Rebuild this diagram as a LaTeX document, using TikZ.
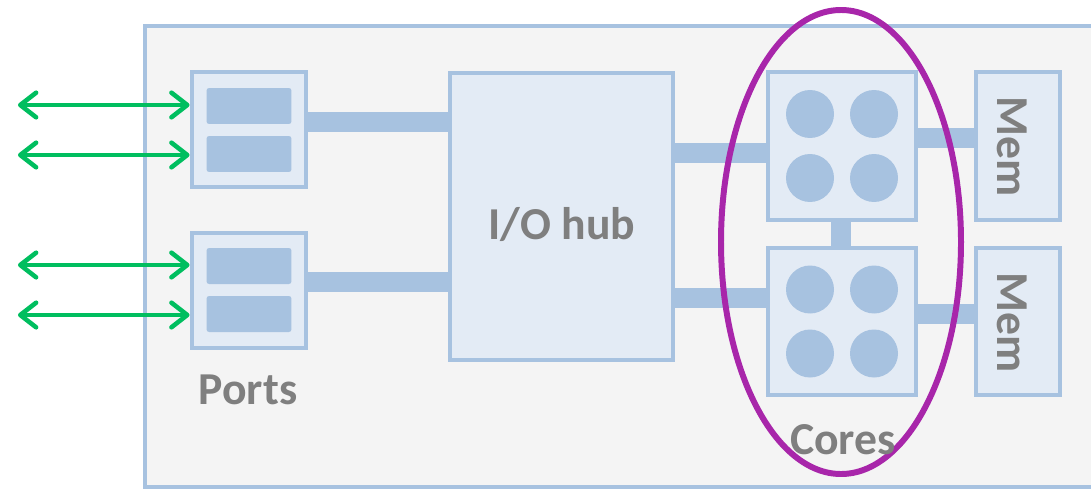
\documentclass[tikz,border=0pt]{standalone}
\usepackage{fontspec}
\setmainfont{Carlito}
\usetikzlibrary{arrows.meta}
\definecolor{boxblue}{RGB}{167,194,224}
\definecolor{boxfill}{RGB}{227,235,245}
\definecolor{chipgray}{RGB}{244,244,244}
\definecolor{txtgray}{RGB}{127,127,127}
\definecolor{iogreen}{RGB}{0,190,95}
\definecolor{corepurple}{RGB}{168,38,170}
\tikzset{
  blk/.style={draw=boxblue,fill=boxfill,line width=2.8pt,inner sep=0pt},
  slot/.style={fill=boxblue,rounded corners=1.5pt,minimum width=1.7cm,minimum height=0.72cm,inner sep=0pt},
  cpu/.style={circle,fill=boxblue,minimum size=0.96cm,inner sep=0pt},
  bar/.style={boxblue,line width=11.4pt},
  io/.style={iogreen,line width=2.6pt,{Straight Barb[length=9pt,width=14pt,round]}-{Straight Barb[length=9pt,width=14pt,round]}},
  lbl/.style={text=txtgray,font=\fontsize{26}{30}\selectfont\bfseries,inner sep=0pt}
}
\begin{document}
\begin{tikzpicture}[x=0.02cm,y=-0.02cm]
  \useasboundingbox (0,0) rectangle (1091,490);
  \draw[draw=boxblue,fill=chipgray,line width=2.8pt] (145,26) rectangle (1120,487);
  % ports
  \node[blk,minimum width=2.28cm,minimum height=2.3cm] (p1) at (249,129.5) {};
  \node[blk,minimum width=2.28cm,minimum height=2.3cm] (p2) at (249,290.5) {};
  \node[slot] (s11) at (249,106) {}; \node[slot] (s12) at (249,154) {};
  \node[slot] (s21) at (249,266) {}; \node[slot] (s22) at (249,314) {};
  \node[lbl] (portl) at (248,390) {Ports};
  % hub
  \node[blk,minimum width=4.46cm,minimum height=5.74cm] (hub) at (561.5,216.5) {};
  \node[lbl] (hubl) at (562,225) {I/O hub};
  % cores and memory
  \node[blk,minimum width=2.96cm,minimum height=2.96cm] (c1) at (842,146) {};
  \node[blk,minimum width=2.96cm,minimum height=2.94cm] (c2) at (842,321.5) {};
  \foreach \c in {c1,c2}
    \foreach \dx/\i in {-32/l,32/r}
      \foreach \dy/\j in {-32/t,32/b}
        \node[cpu] (\c-\j\i) at ([shift={(\dx,\dy)}]\c) {};
  \node[blk,minimum width=1.68cm,minimum height=2.96cm] (m1) at (1018,146) {};
  \node[blk,minimum width=1.68cm,minimum height=2.94cm] (m2) at (1018,321.5) {};
  \node[lbl,rotate=-90] (m1l) at (1012,147) {Mem};
  \node[lbl,rotate=-90] (m2l) at (1012,323) {Mem};
  % links
  \draw[bar] (p1.east |- 0,122) -- (hub.west |- 0,122);
  \draw[bar] (p2.east |- 0,282) -- (hub.west |- 0,282);
  \draw[bar] (hub.east |- 0,153) -- (c1.west |- 0,153);
  \draw[bar] (hub.east |- 0,298) -- (c2.west |- 0,298);
  \draw[bar] (c1.south -| 841,0) -- (c2.north -| 841,0);
  \draw[bar] (c1.east |- 0,138) -- (m1.west |- 0,138);
  \draw[bar] (c2.east |- 0,314) -- (m2.west |- 0,314);
  % external lines
  \foreach \y [count=\k] in {105,155,265,315} {
    \coordinate (e\k) at (18,\y);
    \draw[io] (e\k) -- (e\k -| p1.west);
  }
  \draw[corepurple,line width=3.4pt] (841,242) ellipse [x radius=120,y radius=232];
  \node[lbl] (corel) at (843,440) {Cores};
\end{tikzpicture}
\end{document}
